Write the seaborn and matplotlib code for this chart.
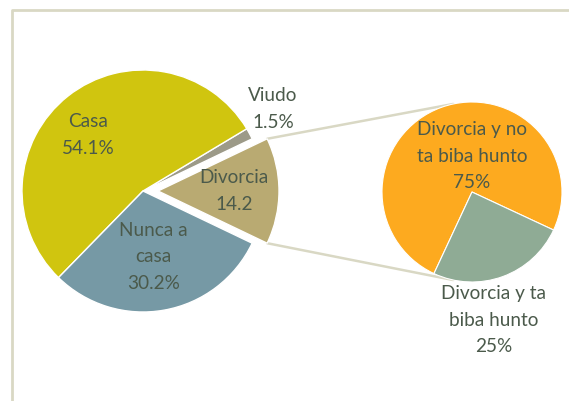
import numpy as np
import matplotlib
matplotlib.use("Agg")
import matplotlib.pyplot as plt
import seaborn as sns

# main pie data
main_labels = ["Divorcia", "Viudo", "Casa", "Nunca a casa"]
main_values = [14.2, 1.5, 54.1, 30.2]
main_text = ["Divorcia\n14.2", "Viudo\n1.5%", "Casa\n54.1%", "Nunca a\ncasa\n30.2%"]
main_colors = ["#b9aa72", "#9c9a88", "#d0c50f", "#7699a5"]

# breakdown of Divorcia
sub_labels = ["Divorcia y no ta biba hunto", "Divorcia y ta biba hunto"]
sub_values = [75, 25]
sub_text = ["Divorcia y no\nta biba hunto\n75%", "Divorcia y ta\nbiba hunto\n25%"]
sub_colors = ["#fdaa1f", "#8fab95"]

sns.set_theme(style="white")
plt.rcParams['font.family'] = ['Lato', 'DejaVu Sans']
text_color = "#4b5a4b"
line_color = "#d9d8c4"
fs = 13.7
ls = 1.68

fig = plt.figure(figsize=(5.69, 4.01), dpi=100)
ax = fig.add_axes([0, 0, 1, 1])

# outer frame (runs off the right and bottom edges)
ax.plot([12, 12, 575], [-5, 391, 391], color=line_color, lw=2, solid_capstyle="butt")

# main pie (explode is in data units here, radius is in pixels)
c1 = (143, 210)
r1 = 121
start1 = -main_values[0] * 3.6 / 2
explode = [15, 0, 0, 0]
wedges, _ = ax.pie(main_values, colors=main_colors, startangle=start1, center=c1,
                   radius=r1, explode=explode, counterclock=True,
                   wedgeprops=dict(linewidth=1, edgecolor="white"), frame=True)

# label positions as (angle offset in deg, radius fraction)
label_pos = [(0, 0.63), (4, 1.27), (6, 0.65), (-1, 0.55)]
for w, txt, (da, rf) in zip(wedges, main_text, label_pos):
    ang = np.deg2rad((w.theta1 + w.theta2) / 2 + da)
    cx, cy = w.center
    ax.text(cx + rf * r1 * np.cos(ang), cy + rf * r1 * np.sin(ang), txt,
            ha="center", va="center", fontsize=fs, color=text_color, linespacing=ls)

# second pie
c2 = (472, 209)
r2 = 90
wedges2, _ = ax.pie(sub_values, colors=sub_colors, startangle=-25, center=c2,
                    radius=r2, counterclock=True,
                    wedgeprops=dict(linewidth=0.8, edgecolor="white"), frame=True)
ax.text(c2[0], c2[1] + 36, sub_text[0], ha="center", va="center",
        fontsize=fs, color=text_color, linespacing=ls)
ax.text(c2[0] + 22, c2[1] - 128, sub_text[1], ha="center", va="center",
        fontsize=fs, color=text_color, linespacing=ls)

# connector lines from Divorcia wedge to the second pie
dw = wedges[0]
for a_main, a_sub in [(dw.theta2, 102), (dw.theta1, 258)]:
    x0 = dw.center[0] + r1 * np.cos(np.deg2rad(a_main))
    y0 = dw.center[1] + r1 * np.sin(np.deg2rad(a_main))
    x1 = c2[0] + r2 * np.cos(np.deg2rad(a_sub))
    y1 = c2[1] + r2 * np.sin(np.deg2rad(a_sub))
    ax.plot([x0, x1], [y0, y1], color=line_color, lw=1.8, zorder=0)

ax.set_xlim(0, 569)
ax.set_ylim(0, 401)
ax.set_aspect("equal")
ax.axis("off")
fig.savefig("out.png", dpi=100)
